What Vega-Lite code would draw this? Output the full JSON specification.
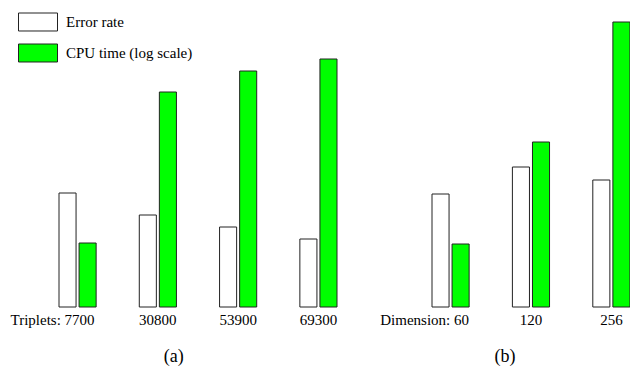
{
  "$schema": "https://vega.github.io/schema/vega-lite/v6.json",
  "autosize": {"type": "pad"},
  "padding": {"left": 10, "top": 0, "right": 0, "bottom": 0},
  "background": "white",
  "config": {
    "view": {"stroke": null},
    "font": "Liberation Serif",
    "text": {"font": "Liberation Serif"}
  },
  "datasets": {
    "a": [
      {"group": "7700", "series": "Error rate", "value": 114},
      {"group": "7700", "series": "CPU time (log scale)", "value": 64},
      {"group": "30800", "series": "Error rate", "value": 92},
      {"group": "30800", "series": "CPU time (log scale)", "value": 215},
      {"group": "53900", "series": "Error rate", "value": 80},
      {"group": "53900", "series": "CPU time (log scale)", "value": 236},
      {"group": "69300", "series": "Error rate", "value": 68},
      {"group": "69300", "series": "CPU time (log scale)", "value": 248}
    ],
    "b": [
      {"group": "60", "series": "Error rate", "value": 113},
      {"group": "60", "series": "CPU time (log scale)", "value": 63},
      {"group": "120", "series": "Error rate", "value": 140},
      {"group": "120", "series": "CPU time (log scale)", "value": 165},
      {"group": "256", "series": "Error rate", "value": 127},
      {"group": "256", "series": "CPU time (log scale)", "value": 285}
    ]
  },
  "bounds": "flush",
  "spacing": 95,
  "resolve": {"scale": {"color": "independent", "x": "independent", "y": "independent"}, "legend": {"color": "independent"}},
  "hconcat": [
    {
      "width": 278,
      "height": 307,
      "data": {"name": "a"},
      "title": {"text": "(a)", "orient": "bottom", "frame": "bounds", "anchor": "middle", "fontSize": 18, "fontWeight": "normal", "font": "Liberation Serif", "offset": 21, "color": "black"},
      "mark": {"type": "bar", "stroke": "#222222", "strokeWidth": 1},
      "encoding": {
        "x": {
          "field": "group", "type": "nominal", "sort": null,
          "scale": {"paddingInner": 0.5375, "paddingOuter": 0},
          "axis": {
            "title": null, "domain": false, "ticks": false, "labelAngle": 0,
            "labelFont": "Liberation Serif", "labelFontSize": 15, "labelColor": "black", "labelPadding": 5,
            "labelExpr": "datum.index == 0 ? 'Triplets: ' + datum.label : datum.label",
            "labelOffset": {"condition": {"test": "datum.index == 0", "value": -25}, "value": 0}
          }
        },
        "xOffset": {"field": "series", "type": "nominal", "sort": ["Error rate", "CPU time (log scale)"], "scale": {"paddingInner": 0.15, "paddingOuter": 0}},
        "y": {"field": "value", "type": "quantitative", "scale": {"domain": [0, 307], "nice": false}, "axis": null},
        "fill": {
          "field": "series", "type": "nominal", "sort": ["Error rate", "CPU time (log scale)"],
          "scale": {"domain": ["Error rate", "CPU time (log scale)"], "range": ["#ffffff", "#00ff00"]},
          "legend": {
            "title": null, "orient": "none", "legendX": -41, "legendY": 2,
            "symbolType": "M-1,-0.4615L1,-0.4615L1,0.4615L-1,0.4615Z", "symbolSize": 1521,
            "symbolStrokeColor": "#222222", "symbolStrokeWidth": 1, "symbolOpacity": 1,
            "labelFont": "Liberation Serif", "labelFontSize": 15, "labelColor": "black", "labelOffset": 8,
            "rowPadding": -4, "labelLimit": 300
          }
        }
      }
    },
    {
      "width": 198,
      "height": 307,
      "data": {"name": "b"},
      "title": {"text": "(b)", "orient": "bottom", "frame": "bounds", "anchor": "middle", "fontSize": 18, "fontWeight": "normal", "font": "Liberation Serif", "offset": 21, "color": "black"},
      "mark": {"type": "bar", "stroke": "#222222", "strokeWidth": 1},
      "encoding": {
        "x": {
          "field": "group", "type": "nominal", "sort": null,
          "scale": {"paddingInner": 0.5375, "paddingOuter": 0},
          "axis": {
            "title": null, "domain": false, "ticks": false, "labelAngle": 0,
            "labelFont": "Liberation Serif", "labelFontSize": 15, "labelColor": "black", "labelPadding": 5,
            "labelExpr": "datum.index == 0 ? 'Dimension: ' + datum.label : datum.label",
            "labelOffset": {"condition": {"test": "datum.index == 0", "value": -26}, "value": 0}
          }
        },
        "xOffset": {"field": "series", "type": "nominal", "sort": ["Error rate", "CPU time (log scale)"], "scale": {"paddingInner": 0.15, "paddingOuter": 0}},
        "y": {"field": "value", "type": "quantitative", "scale": {"domain": [0, 307], "nice": false}, "axis": null},
        "fill": {
          "field": "series", "type": "nominal", "sort": ["Error rate", "CPU time (log scale)"],
          "scale": {"domain": ["Error rate", "CPU time (log scale)"], "range": ["#ffffff", "#00ff00"]},
          "legend": {
            "title": null, "orient": "none", "legendX": -40, "legendY": 2,
            "symbolType": "M-1,-0.4615L1,-0.4615L1,0.4615L-1,0.4615Z", "symbolSize": 1521,
            "symbolStrokeColor": "#222222", "symbolStrokeWidth": 1, "symbolOpacity": 1,
            "labelFont": "Liberation Serif", "labelFontSize": 15, "labelColor": "black", "labelOffset": 8,
            "rowPadding": -4, "labelLimit": 300
          }
        }
      }
    }
  ]
}
